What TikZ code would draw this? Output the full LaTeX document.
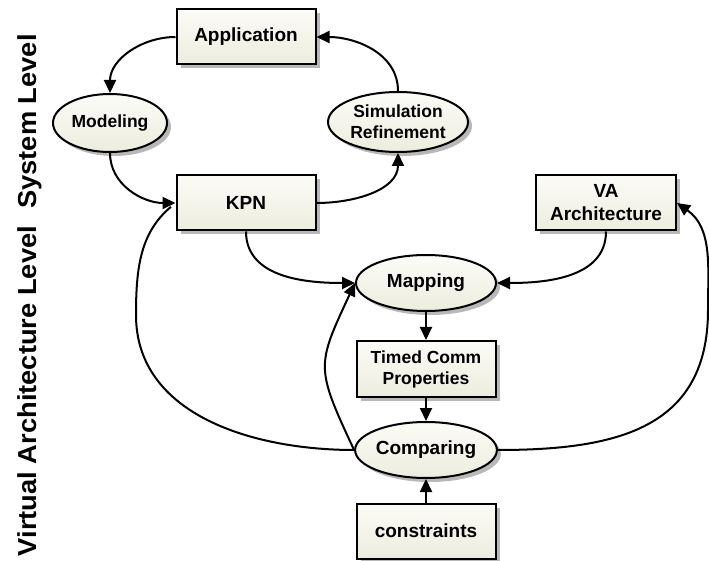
\documentclass[tikz,border=0pt]{standalone}
\usepackage{fontspec}
\setmainfont{Liberation Sans}
\usetikzlibrary{arrows.meta,shadows,shapes.geometric}
\newcommand\fbig{\fontsize{19}{23}\selectfont\bfseries}
\newcommand\fsmall{\fontsize{17.5}{21}\selectfont\bfseries}
\newcommand\flabel{\fontsize{26}{30}\selectfont\bfseries}
\definecolor{ivtop}{RGB}{252,252,247}
\definecolor{ivbot}{RGB}{236,236,222}
\begin{document}
\begin{tikzpicture}[x=1pt,y=1pt,
  >={Triangle[length=13pt,width=12pt]},
  conn/.style={->, line width=2pt},
  plain/.style={line width=2pt},
  nbase/.style={draw=black, line width=2pt, align=center, inner sep=0pt,
    top color=ivtop, bottom color=ivbot,
    drop shadow={shadow xshift=4pt, shadow yshift=-4pt, fill=black!28, opacity=1}},
  box/.style={nbase, rectangle, minimum width=139pt, minimum height=55pt},
  oval/.style={nbase, ellipse, minimum width=140pt, minimum height=56pt},
  lvl/.style={rotate=90, anchor=base, inner sep=0pt, font=\flabel}
]
\useasboundingbox (0,0) rectangle (709,560);

\node[lvl] (sys) at (36,438.5) {\scalebox{1.05}[1]{System Level}};
\node[lvl] (vir) at (36,169) {\scalebox{1.05}[1]{Virtual Architecture Level}};

\node[box, font=\fbig] (app) at (246,523) {Application};
\node[oval, minimum width=114pt, minimum height=58pt, font=\fsmall] (model) at (110,437) {Modeling};
\node[oval, minimum width=140pt, minimum height=60pt, font=\fsmall] (sim) at (398,438) {Simulation\\Refinement};
\node[box, font=\fbig] (kpn) at (246,357) {KPN};
\node[box, minimum width=140pt, font=\fbig] (va) at (606,357) {VA\\Architecture};
\node[oval, font=\fbig] (map) at (426,277) {Mapping};
\node[box, minimum height=56pt, font=\fsmall] (timed) at (426,191) {Timed Comm\\Properties};
\node[oval, font=\fbig] (cmp) at (426,110) {Comparing};
\node[box, font=\fbig] (cons) at (426,29) {constraints};

\coordinate (lc) at (136,245);
\coordinate (rc) at (708,250);

\draw[plain, shorten >=6pt] (cmp.west) to[out=180,in=-90] (lc) to[out=90,in=-140] (kpn.west);
\draw[conn] (app.west) to[out=180,in=90] (model.north);
\draw[conn] (sim.north) to[out=90,in=0] (app.east);
\draw[conn] (model.south) to[out=-90,in=180] (kpn.west);
\draw[conn] (kpn.east) to[out=0,in=-90] (sim.south);
\draw[conn] (kpn.south) to[out=-90,in=180] (map.west);
\draw[conn] (va.south) to[out=-90,in=0] (map.east);
\draw[conn] (cmp.west) to[out=115,in=-115,looseness=1.4] (map.west);
\draw[conn] (map.south) -- (timed.north);
\draw[conn] (timed.south) -- (cmp.north);
\draw[conn] (cons.north) -- (cmp.south);
\draw[conn] (cmp.east) to[out=0,in=-90,looseness=1.2] (rc) to[out=90,in=-35] (va.east);
\end{tikzpicture}
\end{document}
